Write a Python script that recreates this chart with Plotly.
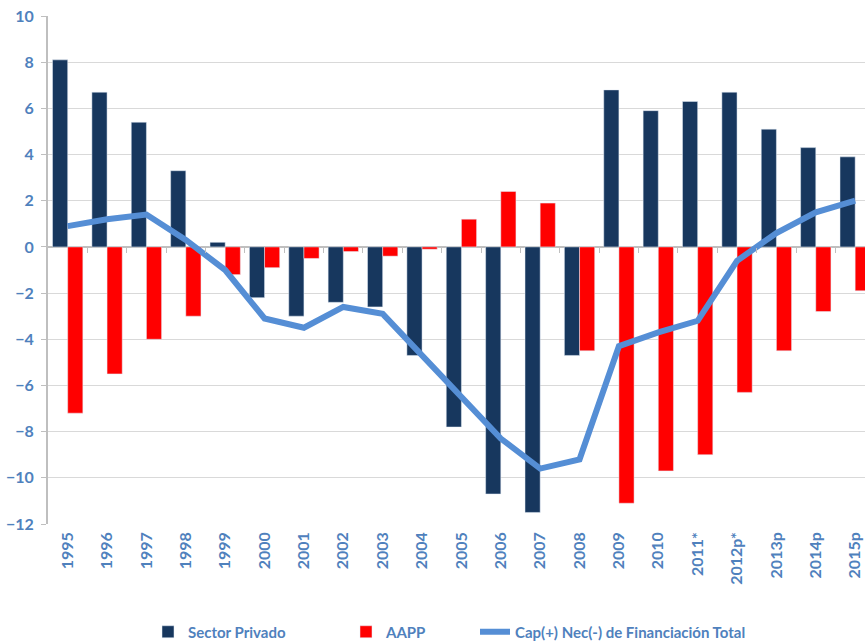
import plotly.graph_objects as go

years = ["1995", "1996", "1997", "1998", "1999", "2000", "2001", "2002", "2003", "2004",
         "2005", "2006", "2007", "2008", "2009", "2010", "2011*", "2012p*", "2013p", "2014p", "2015p"]
sector_privado = [8.1, 6.7, 5.4, 3.3, 0.2, -2.2, -3.0, -2.4, -2.6, -4.7,
                  -7.8, -10.7, -11.5, -4.7, 6.8, 5.9, 6.3, 6.7, 5.1, 4.3, 3.9]
aapp = [-7.2, -5.5, -4.0, -3.0, -1.2, -0.9, -0.5, -0.2, -0.4, -0.1,
        1.2, 2.4, 1.9, -4.5, -11.1, -9.7, -9.0, -6.3, -4.5, -2.8, -1.9]
total = [0.9, 1.2, 1.4, 0.3, -1.0, -3.1, -3.5, -2.6, -2.9, -4.7,
         -6.5, -8.3, -9.6, -9.2, -4.3, -3.7, -3.2, -0.6, 0.6, 1.5, 2.0]
y_ticks = [-12, -10, -8, -6, -4, -2, 0, 2, 4, 6, 8, 10]

NAVY = "#17375E"
RED = "#FF0000"
LINE = "#558ED5"
TXT = "#4F81BD"
FONT = "Lato"

idx = list(range(len(years)))

fig = go.Figure()
fig.add_trace(go.Bar(x=idx, y=sector_privado, name="Sector Privado", marker_color=NAVY,
                     legend="legend"))
fig.add_trace(go.Bar(x=idx, y=aapp, name="AAPP", marker_color=RED, legend="legend2"))
fig.add_trace(go.Scatter(x=idx, y=total, name="Cap(+) Nec(-) de Financiación Total",
                         mode="lines", line=dict(color=LINE, width=6), legend="legend3"))

# axis with category-boundary tick marks along the zero line
boundaries = [i + 0.5 for i in idx[:-1]]
fig.add_trace(go.Scatter(x=[None], y=[None], xaxis="x2", showlegend=False, hoverinfo="skip"))

legfont = dict(family=FONT, size=15, color=TXT, weight="bold")
legcommon = dict(orientation="h", y=(524 - 632) / 508, yanchor="middle", xanchor="left",
                 font=legfont, itemwidth=30, bgcolor="rgba(0,0,0,0)")

fig.update_layout(
    width=865, height=644,
    margin=dict(l=48, r=0, t=16, b=120, autoexpand=False),
    plot_bgcolor="white", paper_bgcolor="white",
    barmode="group", bargap=0.23, bargroupgap=0,
    font=dict(family=FONT, color=TXT),
    xaxis=dict(range=[-0.5, 20.25], tickmode="array", tickvals=idx, ticktext=years,
               tickangle=-90, showgrid=False, showline=False, zeroline=False, automargin=False,
               ticks="", ticklabelshift=0, ticklabelstandoff=4, ticklabeloverflow="allow",
               tickfont=dict(family=FONT, size=16, color=TXT, weight="bold")),
    xaxis2=dict(range=[-0.5, 20.25], overlaying="x", anchor="free", automargin=False,
                position=12 / 22, showline=False, tickmode="array", tickvals=boundaries,
                ticks="outside", ticklen=5, tickcolor="#BFBFBF", tickwidth=1,
                showticklabels=False, showgrid=False, zeroline=False),
    yaxis=dict(range=[-12, 10], tickmode="array", tickvals=y_ticks, automargin=False,
               showgrid=True, gridcolor="#D9D9D9", gridwidth=1,
               zeroline=True, zerolinecolor="#BFBFBF", zerolinewidth=2,
               showline=True, linecolor="#BFBFBF", linewidth=2,
               ticks="outside", ticklen=5, tickcolor="#BFBFBF", ticklabelstandoff=4,
               ticklabeloverflow="allow",
               tickfont=dict(family=FONT, size=16, color=TXT, weight="bold")),
    legend=dict(x=(148 - 48) / 817, **legcommon),
    legend2=dict(x=(346 - 48) / 817, **legcommon),
    legend3=dict(x=(475 - 48) / 817, **legcommon),
)

fig.write_html("out.html", config={"displayModeBar": False},
               post_script="document.body.style.margin='0';document.body.style.overflow='hidden';")
